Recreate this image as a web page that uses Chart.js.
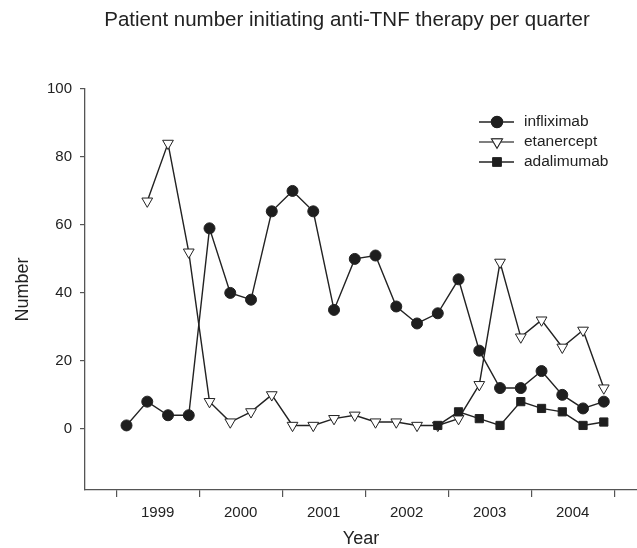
<!DOCTYPE html>
<html lang="en">
<head>
  <meta charset="UTF-8">
  <title>Patient number initiating anti-TNF therapy per quarter</title>
  <script src="https://cdn.jsdelivr.net/npm/chart.js"></script>
  <style>
    html, body { margin: 0; padding: 0; background: #fff; overflow: hidden; }
    #wrap { width: 637px; height: 548px; }
    canvas { display: block; }
  </style>
</head>
<body>
  <div id="wrap"><canvas id="chart"></canvas></div>

  <script>
    // quarters 1999 Q1 .. 2004 Q4 (x = index)
    const years = ['1999', '2000', '2001', '2002', '2003', '2004'];
    const quarters = years.flatMap(y => ['Q1', 'Q2', 'Q3', 'Q4'].map(q => y + ' ' + q));

    const infliximab = [1, 8, 4, 4, 59, 40, 38, 64, 70, 64, 35, 50, 51, 36, 31, 34, 44, 23, 12, 12, 17, 10, 6, 8];
    const etanercept = [null, 67, 84, 52, 8, 2, 5, 10, 1, 1, 3, 4, 2, 2, 1, 1, 3, 13, 49, 27, 32, 24, 29, 12];
    const adalimumab = [null, null, null, null, null, null, null, null, null, null, null, null, null, null, null, 1, 5, 3, 1, 8, 6, 5, 1, 2];

    const yTicks = [0, 20, 40, 60, 80, 100];

    const FONT = '"Liberation Sans", Arial, sans-serif';
    const INK = '#222';

    const toPoints = arr => arr.map((v, i) => ({ x: i, y: v })).filter(p => p.y !== null);

    const series = [
      { label: 'infliximab', data: infliximab, style: 'circle', radius: 5.5, fill: '#1e1e1e', rotation: 0 },
      { label: 'etanercept', data: etanercept, style: 'triangle', radius: 6.2, fill: '#ffffff', rotation: 180 },
      { label: 'adalimumab', data: adalimumab, style: 'rect', radius: 5.8, fill: '#1e1e1e', rotation: 0 }
    ];

    // legend drawn as line + marker, like the original
    const lineLegend = {
      id: 'lineLegend',
      afterDraw(chart) {
        const ctx = chart.ctx;
        const x0 = 479, x1 = 514, xm = 497, tx = 524;
        const rows = [122, 142, 162];
        ctx.save();
        series.forEach((s, i) => {
          const y = rows[i];
          ctx.strokeStyle = i === 1 ? '#555' : INK;
          ctx.lineWidth = 1.4;
          ctx.beginPath();
          ctx.moveTo(x0, y);
          ctx.lineTo(x1, y);
          ctx.stroke();
          Chart.helpers.drawPoint(ctx, {
            pointStyle: s.style, radius: s.radius, rotation: s.rotation, borderWidth: 1
          }, xm, y);
          ctx.fillStyle = s.fill;
          ctx.strokeStyle = INK;
          ctx.lineWidth = 1;
          ctx.fill();
          ctx.stroke();
          ctx.fillStyle = INK;
          ctx.font = '15.5px ' + FONT;
          ctx.textBaseline = 'middle';
          ctx.textAlign = 'left';
          ctx.fillText(s.label, tx, y);
        });
        // title
        ctx.font = '20.5px ' + FONT;
        ctx.textAlign = 'center';
        ctx.textBaseline = 'middle';
        ctx.fillStyle = INK;
        ctx.fillText('Patient number initiating anti-TNF therapy per quarter', 347, 20);
        ctx.restore();
      }
    };

    const isBoundary = v => Math.abs(((v + 0.5) % 4 + 4) % 4) < 1e-6;

    new Chart(document.getElementById('chart'), {
      type: 'line',
      data: {
        datasets: series.map(s => ({
          label: s.label,
          data: toPoints(s.data),
          borderColor: INK,
          borderWidth: 1.4,
          pointStyle: s.style,
          pointRadius: s.radius,
          pointRotation: s.rotation,
          pointBackgroundColor: s.fill,
          pointBorderColor: INK,
          pointBorderWidth: 1,
          tension: 0,
          fill: false
        })).reverse()
      },
      options: {
        responsive: true,
        maintainAspectRatio: false,
        animation: false,
        layout: { autoPadding: false, padding: { top: 89, left: 0, right: 0, bottom: 0 } },
        plugins: {
          legend: { display: false },
          tooltip: { enabled: false }
        },
        scales: {
          x: {
            type: 'linear',
            min: -2,
            max: 24.6,
            afterFit(scale) { scale.height = 58; },
            afterBuildTicks(scale) {
              const t = [];
              for (let v = -0.5; v <= 23.5; v += 2) t.push({ value: v });
              scale.ticks = t;
            },
            ticks: {
              autoSkip: false,
              maxRotation: 0,
              padding: 7,
              color: INK,
              font: { family: FONT, size: 15 },
              callback(v) {
                if (isBoundary(v)) return '';
                return years[Math.round((v - 1.5) / 4)] || '';
              }
            },
            grid: {
              drawOnChartArea: false,
              tickLength: 7,
              tickColor: c => (c.tick && isBoundary(c.tick.value)) ? '#555' : 'rgba(0,0,0,0)',
              lineWidth: 1.2
            },
            border: { color: '#555', width: 1.3 },
            title: {
              display: true,
              text: 'Year',
              color: INK,
              font: { family: FONT, size: 18, lineHeight: 1.0 },
              padding: { top: 0, bottom: 0 }
            }
          },
          y: {
            min: -18,
            max: 100,
            afterFit(scale) { scale.width = 85; },
            afterBuildTicks(scale) {
              scale.ticks = yTicks.map(v => ({ value: v }));
            },
            ticks: {
              padding: 8,
              color: INK,
              font: { family: FONT, size: 15 }
            },
            grid: {
              drawOnChartArea: false,
              tickLength: 5,
              tickColor: '#555',
              lineWidth: 1.2
            },
            border: { color: '#555', width: 1.3 },
            title: {
              display: true,
              text: 'Number',
              color: INK,
              font: { family: FONT, size: 18 },
              padding: { top: 12, bottom: 0 }
            }
          }
        }
      },
      plugins: [lineLegend]
    });
  </script>
</body>
</html>
